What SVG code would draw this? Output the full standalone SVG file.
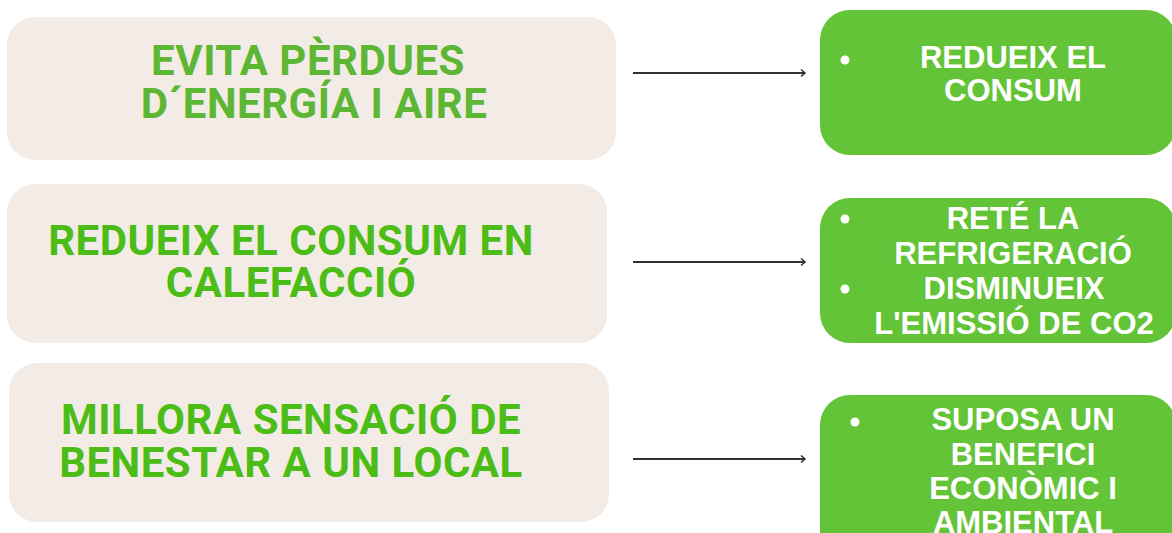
<svg xmlns="http://www.w3.org/2000/svg" width="1172" height="533" viewBox="0 0 1172 533">
<style>
.beige{fill:#f2ebe6}
.green{fill:#63c437}
.t1{font-family:Roboto,"Liberation Sans",Arial,sans-serif;font-weight:bold;font-size:42px;letter-spacing:0.5px;text-anchor:middle}
.t2{font-family:"Liberation Sans",Arial,sans-serif;font-weight:bold;font-size:31px;fill:#ffffff;text-anchor:middle}
.conn{stroke:#333333;stroke-width:2;fill:none}
.bullet{fill:#ffffff}
</style>
<defs>
<marker id="arr" markerWidth="10" markerHeight="10" refX="7" refY="5" orient="auto" markerUnits="userSpaceOnUse">
<path d="M3,1.5 L7,5 L3,8.5" fill="none" stroke="#333333" stroke-width="1.6"/>
</marker>
</defs>
<rect width="1172" height="533" fill="#ffffff"/>
<g id="node-evita">
<rect class="beige" x="7" y="17" width="609" height="143" rx="28"/>
<text class="t1" x="308" y="75" fill="#5db634">EVITA PÈRDUES</text>
<text class="t1" x="314" y="118" fill="#5db634">D´ENERGÍA I AIRE</text>
</g>
<g id="node-redueix">
<rect class="beige" x="7" y="184" width="600" height="159" rx="28"/>
<text class="t1" x="291" y="255" fill="#4cbc16">REDUEIX EL CONSUM EN</text>
<text class="t1" x="291" y="297" fill="#4cbc16">CALEFACCIÓ</text>
</g>
<g id="node-millora">
<rect class="beige" x="9" y="363" width="600" height="159" rx="28"/>
<text class="t1" x="291" y="434" fill="#4cbc16">MILLORA SENSACIÓ DE</text>
<text class="t1" x="291" y="477" fill="#4cbc16">BENESTAR A UN LOCAL</text>
</g>
<g id="node-consum">
<rect class="green" x="820" y="10" width="356" height="145" rx="30"/>
<circle class="bullet" cx="845" cy="60" r="4.5"/>
<text class="t2" x="1013" y="68">REDUEIX EL</text>
<text class="t2" x="1013" y="101">CONSUM</text>
</g>
<g id="node-refrigeracio">
<rect class="green" x="820" y="198" width="356" height="145" rx="30"/>
<circle class="bullet" cx="845" cy="219" r="4.5"/>
<circle class="bullet" cx="845" cy="289" r="4.5"/>
<text class="t2" x="1013" y="229">RETÉ LA</text>
<text class="t2" x="1013" y="264">REFRIGERACIÓ</text>
<text class="t2" x="1014" y="299">DISMINUEIX</text>
<text class="t2" x="1014" y="334">L'EMISSIÓ DE CO2</text>
</g>
<g id="node-benefici">
<rect class="green" x="820" y="395" width="356" height="170" rx="30"/>
<circle class="bullet" cx="855" cy="422" r="4.5"/>
<text class="t2" x="1023" y="430">SUPOSA UN</text>
<text class="t2" x="1023" y="465">BENEFICI</text>
<text class="t2" x="1023" y="499">ECONÒMIC I</text>
<text class="t2" x="1023" y="533">AMBIENTAL</text>
</g>
<g id="connectors">
<line class="conn" x1="633" y1="73" x2="805" y2="73" marker-end="url(#arr)"/>
<line class="conn" x1="633" y1="262" x2="805" y2="262" marker-end="url(#arr)"/>
<line class="conn" x1="633" y1="459" x2="805" y2="459" marker-end="url(#arr)"/>
</g>
</svg>
